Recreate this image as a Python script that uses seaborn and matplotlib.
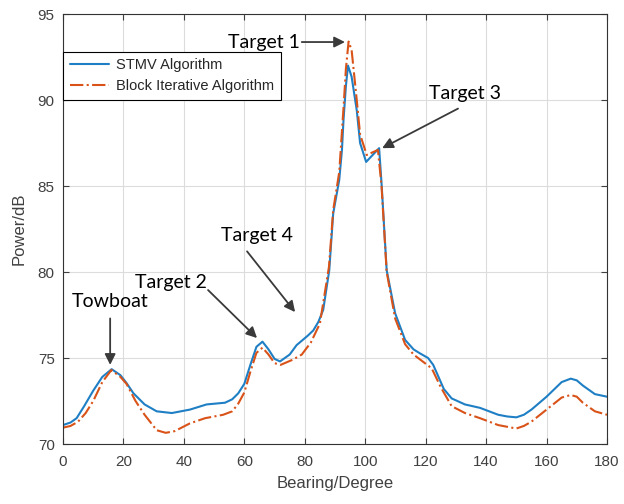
import numpy as np
import pandas as pd
import matplotlib
matplotlib.use("Agg")
import matplotlib.pyplot as plt
import seaborn as sns

# ---- data ----
stmv_bearing = [0, 2.5, 4.5, 7, 10, 13, 16.1, 19, 21, 23.3, 27, 31, 36, 42, 47.5, 53.6, 56, 58,
                60, 62, 64, 66, 68, 70, 71.8, 75, 77.3, 81, 82.8, 84.5, 86.1, 88.1, 89.4, 91.4,
                92.3, 92.8, 93.6, 94.3, 95.5, 97.2, 98.3, 100.3, 104.6, 105.4, 107.1, 109.9,
                113.2, 116, 118.1, 120.8, 122.5, 124, 126, 128.6, 133, 138, 144, 147, 150, 152.5,
                155, 160, 165, 168, 170, 172, 176, 180]
stmv_power = [71.1, 71.25, 71.5, 72.2, 73.1, 73.9, 74.35, 74.0, 73.55, 72.95, 72.3, 71.9, 71.8,
              72.0, 72.3, 72.4, 72.6, 72.95, 73.5, 74.6, 75.65, 75.95, 75.5, 74.95, 74.8, 75.2,
              75.75, 76.3, 76.6, 77.1, 77.8, 80.1, 83.4, 85.35, 87.1, 88.8, 90.8, 92.0, 91.35,
              89.4, 87.5, 86.4, 87.2, 85.15, 80.1, 77.6, 76.05, 75.5, 75.27, 75.0, 74.6, 74.0,
              73.2, 72.65, 72.3, 72.1, 71.7, 71.6, 71.55, 71.7, 72.0, 72.75, 73.6, 73.8, 73.7,
              73.4, 72.9, 72.75]

block_bearing = [0, 2.5, 5, 7.5, 10, 13, 16, 19, 21, 24, 27, 31, 34, 37, 42, 47, 53, 56, 58, 60,
                 62, 64, 66, 68, 70, 72, 76, 79, 82, 85, 88, 89.4, 91.4, 92.8, 93.6, 94.5, 95.5,
                 97.2, 98.3, 100.5, 104.2, 105.4, 107.1, 109.9, 113.2, 116, 119, 122, 125, 128.6,
                 133, 138, 144, 147, 150, 152.5, 155, 160, 165, 168, 170, 172, 176, 180]
block_power = [70.95, 71.05, 71.3, 71.8, 72.5, 73.6, 74.3, 73.9, 73.5, 72.5, 71.7, 70.8, 70.65,
               70.75, 71.2, 71.5, 71.7, 71.9, 72.35, 73.0, 74.2, 75.3, 75.6, 75.2, 74.7, 74.6,
               74.9, 75.2, 75.9, 77.0, 80.3, 83.6, 85.8, 89.5, 91.8, 93.4, 92.9, 90.0, 88.0, 86.8,
               87.1, 85.0, 80.0, 77.3, 75.8, 75.2, 74.8, 74.4, 73.3, 72.2, 71.8, 71.5, 71.1, 71.0,
               70.9, 71.05, 71.3, 72.0, 72.7, 72.85, 72.75, 72.4, 71.9, 71.7]

series_labels = ["STMV Algorithm", "Block Iterative Algorithm"]
x_ticks = list(range(0, 181, 20))
y_ticks = list(range(70, 96, 5))

ann_labels = ["Target 1", "Target 3", "Target 4", "Target 2", "Towboat"]

sns.set_style("white")
plt.rcParams["font.family"] = ["Liberation Sans", "DejaVu Sans"]

fig = plt.figure(figsize=(6.24, 5.04), dpi=100)
ax = fig.add_axes([63 / 624, 1 - 444 / 504, (607 - 63) / 624, (444 - 14) / 504])

sns.lineplot(x=stmv_bearing, y=stmv_power, ax=ax, color="#1f7fc4", linewidth=1.5,
             label=series_labels[0], sort=False)
sns.lineplot(x=block_bearing, y=block_power, ax=ax, color="#D95319", linewidth=1.5,
             linestyle="-.", label=series_labels[1], sort=False)

ax.set_xlim(0, 180)
ax.set_ylim(70, 95)
ax.set_xticks(x_ticks)
ax.set_yticks(y_ticks)
ax.grid(True, color="#dcdcdc", linewidth=0.8)
ax.tick_params(axis="both", direction="in", length=4, labelsize=11, labelcolor="#404040",
               color="#404040", top=True, right=True, bottom=True, left=True,
               labeltop=False, labelright=False)
ax.tick_params(axis="x", pad=8)
ax.tick_params(axis="y", pad=6)
for s in ax.spines.values():
    s.set_visible(True)
    s.set_color("#333333")
    s.set_linewidth(0.8)
ax.set_xlabel("Bearing/Degree", fontsize=12, color="#404040", labelpad=5)
ax.set_ylabel("Power/dB", fontsize=12, color="#404040", labelpad=8)

leg = ax.legend(loc="upper left", bbox_to_anchor=(0, 0.912), fontsize=10.5, frameon=True,
                fancybox=False, edgecolor="black", framealpha=1, borderaxespad=0,
                handlelength=2.7, borderpad=0.45, labelspacing=0.45, handletextpad=0.5)
leg.get_frame().set_linewidth(0.8)

arrow = dict(arrowstyle="-|>", color="#3a3a3a", lw=1.3, mutation_scale=16, shrinkA=0, shrinkB=0)
afont = dict(fontsize=14, family=["Lato", "DejaVu Sans"], color="black")

ax.annotate("", xy=(93.3, 93.37), xytext=(79.0, 93.37), arrowprops=arrow)
ax.text(78.4, 93.37, ann_labels[0], ha="right", va="center", **afont)

ax.annotate("", xy=(105.6, 87.2), xytext=(130.7, 89.5), arrowprops=arrow)
ax.text(133.0, 90.4, ann_labels[1], ha="center", va="center", **afont)

ax.annotate("", xy=(76.8, 77.67), xytext=(60.9, 81.2), arrowprops=arrow)
ax.text(64.2, 82.1, ann_labels[2], ha="center", va="center", **afont)

ax.annotate("", xy=(64.2, 76.16), xytext=(48.0, 78.95), arrowprops=arrow)
ax.text(35.7, 79.4, ann_labels[3], ha="center", va="center", **afont)

ax.annotate("", xy=(15.6, 74.6), xytext=(15.6, 77.3), arrowprops=arrow)
ax.text(15.6, 78.26, ann_labels[4], ha="center", va="center", **afont)

fig.savefig("out.png", dpi=100)
